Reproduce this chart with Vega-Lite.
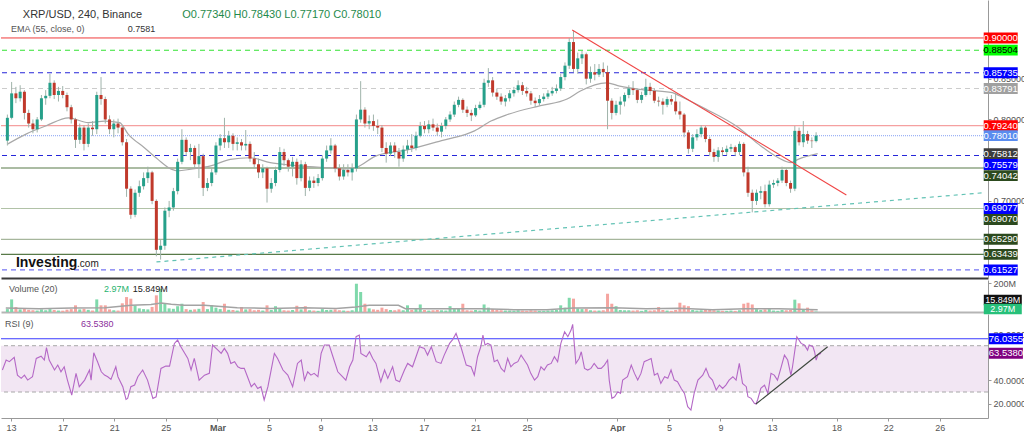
{
"$schema": "https://vega.github.io/schema/vega-lite/v6.json",
"padding": 0,
"background": "#ffffff",
"spacing": 2,
"bounds": "flush",
"config": {"view": {"stroke": null}, "font": "Liberation Sans"},
"resolve": {"scale": {"fill": "independent", "stroke": "independent", "strokeDash": "independent", "strokeWidth": "independent"}},
"datasets": {
"candles": [
{"t":-16,"o":0.774,"h":0.806,"l":0.768,"c":0.802,"v":20},
{"t":-8,"o":0.802,"h":0.846,"l":0.8,"c":0.832,"v":87},
{"t":0,"o":0.832,"h":0.84,"l":0.82,"c":0.826,"v":34},
{"t":8,"o":0.826,"h":0.842,"l":0.822,"c":0.834,"v":18},
{"t":16,"o":0.834,"h":0.836,"l":0.8,"c":0.808,"v":22},
{"t":24,"o":0.808,"h":0.812,"l":0.79,"c":0.795,"v":15},
{"t":32,"o":0.795,"h":0.8,"l":0.783,"c":0.788,"v":12},
{"t":40,"o":0.788,"h":0.803,"l":0.784,"c":0.8,"v":10},
{"t":48,"o":0.8,"h":0.83,"l":0.798,"c":0.826,"v":18},
{"t":56,"o":0.826,"h":0.836,"l":0.818,"c":0.829,"v":12},
{"t":64,"o":0.829,"h":0.856,"l":0.826,"c":0.845,"v":20},
{"t":72,"o":0.845,"h":0.848,"l":0.825,"c":0.83,"v":14},
{"t":80,"o":0.83,"h":0.84,"l":0.822,"c":0.835,"v":10},
{"t":88,"o":0.835,"h":0.841,"l":0.826,"c":0.83,"v":9},
{"t":96,"o":0.83,"h":0.833,"l":0.81,"c":0.815,"v":16},
{"t":104,"o":0.815,"h":0.818,"l":0.795,"c":0.8,"v":20},
{"t":112,"o":0.8,"h":0.802,"l":0.765,"c":0.775,"v":46},
{"t":120,"o":0.775,"h":0.795,"l":0.77,"c":0.79,"v":18},
{"t":128,"o":0.79,"h":0.793,"l":0.762,"c":0.77,"v":22},
{"t":136,"o":0.77,"h":0.795,"l":0.766,"c":0.79,"v":15},
{"t":144,"o":0.79,"h":0.798,"l":0.78,"c":0.788,"v":10},
{"t":152,"o":0.788,"h":0.834,"l":0.782,"c":0.83,"v":87},
{"t":160,"o":0.83,"h":0.852,"l":0.818,"c":0.825,"v":46},
{"t":168,"o":0.825,"h":0.828,"l":0.795,"c":0.8,"v":46},
{"t":176,"o":0.8,"h":0.805,"l":0.782,"c":0.788,"v":18},
{"t":184,"o":0.788,"h":0.8,"l":0.778,"c":0.795,"v":12},
{"t":192,"o":0.795,"h":0.801,"l":0.783,"c":0.79,"v":10},
{"t":200,"o":0.79,"h":0.793,"l":0.768,"c":0.772,"v":60},
{"t":208,"o":0.772,"h":0.776,"l":0.705,"c":0.715,"v":103},
{"t":216,"o":0.715,"h":0.718,"l":0.678,"c":0.683,"v":92},
{"t":224,"o":0.683,"h":0.714,"l":0.68,"c":0.71,"v":45},
{"t":232,"o":0.71,"h":0.725,"l":0.705,"c":0.718,"v":25},
{"t":240,"o":0.718,"h":0.735,"l":0.714,"c":0.728,"v":20},
{"t":248,"o":0.728,"h":0.742,"l":0.722,"c":0.735,"v":18},
{"t":256,"o":0.735,"h":0.737,"l":0.696,"c":0.7,"v":35},
{"t":264,"o":0.7,"h":0.702,"l":0.632,"c":0.64,"v":115},
{"t":272,"o":0.64,"h":0.652,"l":0.628,"c":0.645,"v":160},
{"t":280,"o":0.645,"h":0.692,"l":0.64,"c":0.688,"v":57},
{"t":288,"o":0.688,"h":0.7,"l":0.68,"c":0.692,"v":25},
{"t":296,"o":0.692,"h":0.716,"l":0.688,"c":0.712,"v":22},
{"t":304,"o":0.712,"h":0.752,"l":0.708,"c":0.748,"v":40},
{"t":312,"o":0.748,"h":0.788,"l":0.745,"c":0.775,"v":57},
{"t":320,"o":0.775,"h":0.778,"l":0.755,"c":0.76,"v":20},
{"t":328,"o":0.76,"h":0.77,"l":0.75,"c":0.765,"v":15},
{"t":336,"o":0.765,"h":0.768,"l":0.74,"c":0.745,"v":18},
{"t":344,"o":0.745,"h":0.77,"l":0.728,"c":0.755,"v":22},
{"t":352,"o":0.755,"h":0.758,"l":0.706,"c":0.716,"v":69},
{"t":360,"o":0.716,"h":0.728,"l":0.712,"c":0.722,"v":20},
{"t":368,"o":0.722,"h":0.74,"l":0.718,"c":0.735,"v":46},
{"t":376,"o":0.735,"h":0.772,"l":0.732,"c":0.768,"v":30},
{"t":384,"o":0.768,"h":0.782,"l":0.762,"c":0.777,"v":20},
{"t":392,"o":0.777,"h":0.802,"l":0.765,"c":0.772,"v":57},
{"t":400,"o":0.772,"h":0.786,"l":0.765,"c":0.78,"v":15},
{"t":408,"o":0.78,"h":0.783,"l":0.762,"c":0.77,"v":14},
{"t":416,"o":0.77,"h":0.778,"l":0.762,"c":0.772,"v":10},
{"t":424,"o":0.772,"h":0.776,"l":0.762,"c":0.768,"v":34},
{"t":432,"o":0.768,"h":0.787,"l":0.762,"c":0.77,"v":18},
{"t":440,"o":0.77,"h":0.773,"l":0.748,"c":0.752,"v":20},
{"t":448,"o":0.752,"h":0.76,"l":0.74,"c":0.745,"v":12},
{"t":456,"o":0.745,"h":0.752,"l":0.728,"c":0.735,"v":15},
{"t":464,"o":0.735,"h":0.745,"l":0.728,"c":0.74,"v":10},
{"t":472,"o":0.74,"h":0.742,"l":0.698,"c":0.715,"v":46},
{"t":480,"o":0.715,"h":0.728,"l":0.71,"c":0.722,"v":14},
{"t":488,"o":0.722,"h":0.742,"l":0.718,"c":0.738,"v":40},
{"t":496,"o":0.738,"h":0.766,"l":0.735,"c":0.76,"v":25},
{"t":504,"o":0.76,"h":0.764,"l":0.743,"c":0.75,"v":12},
{"t":512,"o":0.75,"h":0.752,"l":0.736,"c":0.742,"v":10},
{"t":520,"o":0.742,"h":0.754,"l":0.73,"c":0.748,"v":14},
{"t":528,"o":0.748,"h":0.752,"l":0.72,"c":0.728,"v":43},
{"t":536,"o":0.728,"h":0.75,"l":0.724,"c":0.745,"v":18},
{"t":544,"o":0.745,"h":0.748,"l":0.706,"c":0.716,"v":40},
{"t":552,"o":0.716,"h":0.73,"l":0.712,"c":0.725,"v":12},
{"t":560,"o":0.725,"h":0.73,"l":0.716,"c":0.722,"v":10},
{"t":568,"o":0.722,"h":0.733,"l":0.718,"c":0.728,"v":8},
{"t":576,"o":0.728,"h":0.756,"l":0.725,"c":0.752,"v":20},
{"t":584,"o":0.752,"h":0.768,"l":0.748,"c":0.762,"v":14},
{"t":592,"o":0.762,"h":0.777,"l":0.758,"c":0.768,"v":15},
{"t":600,"o":0.768,"h":0.77,"l":0.735,"c":0.74,"v":18},
{"t":608,"o":0.74,"h":0.745,"l":0.725,"c":0.73,"v":12},
{"t":616,"o":0.73,"h":0.745,"l":0.726,"c":0.738,"v":10},
{"t":624,"o":0.738,"h":0.745,"l":0.73,"c":0.735,"v":8},
{"t":632,"o":0.735,"h":0.746,"l":0.725,"c":0.74,"v":12},
{"t":640,"o":0.74,"h":0.806,"l":0.736,"c":0.8,"v":195},
{"t":648,"o":0.8,"h":0.847,"l":0.796,"c":0.812,"v":138},
{"t":656,"o":0.812,"h":0.815,"l":0.79,"c":0.795,"v":57},
{"t":664,"o":0.795,"h":0.805,"l":0.788,"c":0.798,"v":25},
{"t":672,"o":0.798,"h":0.806,"l":0.786,"c":0.792,"v":18},
{"t":680,"o":0.792,"h":0.8,"l":0.782,"c":0.79,"v":15},
{"t":688,"o":0.79,"h":0.793,"l":0.76,"c":0.765,"v":30},
{"t":696,"o":0.765,"h":0.772,"l":0.747,"c":0.758,"v":20},
{"t":704,"o":0.758,"h":0.772,"l":0.755,"c":0.768,"v":14},
{"t":712,"o":0.768,"h":0.772,"l":0.753,"c":0.76,"v":12},
{"t":720,"o":0.76,"h":0.765,"l":0.742,"c":0.752,"v":18},
{"t":728,"o":0.752,"h":0.768,"l":0.748,"c":0.763,"v":12},
{"t":736,"o":0.763,"h":0.775,"l":0.758,"c":0.768,"v":46},
{"t":744,"o":0.768,"h":0.782,"l":0.76,"c":0.765,"v":15},
{"t":752,"o":0.765,"h":0.785,"l":0.762,"c":0.78,"v":20},
{"t":760,"o":0.78,"h":0.797,"l":0.778,"c":0.792,"v":52},
{"t":768,"o":0.792,"h":0.798,"l":0.783,"c":0.788,"v":14},
{"t":776,"o":0.788,"h":0.799,"l":0.783,"c":0.794,"v":10},
{"t":784,"o":0.794,"h":0.801,"l":0.786,"c":0.79,"v":12},
{"t":792,"o":0.79,"h":0.795,"l":0.78,"c":0.785,"v":14},
{"t":800,"o":0.785,"h":0.796,"l":0.778,"c":0.792,"v":12},
{"t":808,"o":0.792,"h":0.803,"l":0.788,"c":0.8,"v":10},
{"t":816,"o":0.8,"h":0.81,"l":0.797,"c":0.806,"v":40},
{"t":824,"o":0.806,"h":0.822,"l":0.803,"c":0.818,"v":20},
{"t":832,"o":0.818,"h":0.828,"l":0.815,"c":0.824,"v":22},
{"t":840,"o":0.824,"h":0.826,"l":0.808,"c":0.812,"v":57},
{"t":848,"o":0.812,"h":0.816,"l":0.803,"c":0.808,"v":12},
{"t":856,"o":0.808,"h":0.812,"l":0.798,"c":0.805,"v":10},
{"t":864,"o":0.805,"h":0.818,"l":0.803,"c":0.814,"v":14},
{"t":872,"o":0.814,"h":0.822,"l":0.812,"c":0.818,"v":10},
{"t":880,"o":0.818,"h":0.85,"l":0.815,"c":0.845,"v":52},
{"t":888,"o":0.845,"h":0.863,"l":0.84,"c":0.848,"v":30},
{"t":896,"o":0.848,"h":0.852,"l":0.828,"c":0.833,"v":20},
{"t":904,"o":0.833,"h":0.838,"l":0.824,"c":0.828,"v":14},
{"t":912,"o":0.828,"h":0.832,"l":0.818,"c":0.822,"v":12},
{"t":920,"o":0.822,"h":0.83,"l":0.816,"c":0.826,"v":10},
{"t":928,"o":0.826,"h":0.836,"l":0.822,"c":0.832,"v":10},
{"t":936,"o":0.832,"h":0.84,"l":0.828,"c":0.836,"v":8},
{"t":944,"o":0.836,"h":0.848,"l":0.833,"c":0.842,"v":12},
{"t":952,"o":0.842,"h":0.846,"l":0.83,"c":0.835,"v":10},
{"t":960,"o":0.835,"h":0.84,"l":0.828,"c":0.832,"v":8},
{"t":968,"o":0.832,"h":0.835,"l":0.818,"c":0.823,"v":12},
{"t":976,"o":0.823,"h":0.827,"l":0.815,"c":0.82,"v":10},
{"t":984,"o":0.82,"h":0.83,"l":0.817,"c":0.825,"v":8},
{"t":992,"o":0.825,"h":0.832,"l":0.822,"c":0.828,"v":8},
{"t":1000,"o":0.828,"h":0.836,"l":0.825,"c":0.832,"v":10},
{"t":1008,"o":0.832,"h":0.84,"l":0.829,"c":0.835,"v":12},
{"t":1016,"o":0.835,"h":0.843,"l":0.832,"c":0.838,"v":14},
{"t":1024,"o":0.838,"h":0.856,"l":0.835,"c":0.852,"v":46},
{"t":1032,"o":0.852,"h":0.87,"l":0.848,"c":0.866,"v":30},
{"t":1040,"o":0.866,"h":0.9,"l":0.862,"c":0.895,"v":98},
{"t":1048,"o":0.895,"h":0.909,"l":0.858,"c":0.862,"v":92},
{"t":1056,"o":0.862,"h":0.882,"l":0.856,"c":0.875,"v":25},
{"t":1064,"o":0.875,"h":0.884,"l":0.868,"c":0.88,"v":20},
{"t":1072,"o":0.88,"h":0.882,"l":0.843,"c":0.85,"v":22},
{"t":1080,"o":0.85,"h":0.865,"l":0.845,"c":0.858,"v":12},
{"t":1088,"o":0.858,"h":0.868,"l":0.848,"c":0.855,"v":10},
{"t":1096,"o":0.855,"h":0.868,"l":0.852,"c":0.862,"v":10},
{"t":1104,"o":0.862,"h":0.87,"l":0.852,"c":0.858,"v":12},
{"t":1112,"o":0.858,"h":0.866,"l":0.788,"c":0.823,"v":126},
{"t":1120,"o":0.823,"h":0.826,"l":0.8,"c":0.808,"v":57},
{"t":1128,"o":0.808,"h":0.823,"l":0.805,"c":0.818,"v":40},
{"t":1136,"o":0.818,"h":0.828,"l":0.806,"c":0.822,"v":14},
{"t":1144,"o":0.822,"h":0.833,"l":0.816,"c":0.83,"v":12},
{"t":1152,"o":0.83,"h":0.842,"l":0.826,"c":0.838,"v":12},
{"t":1160,"o":0.838,"h":0.847,"l":0.83,"c":0.836,"v":10},
{"t":1168,"o":0.836,"h":0.838,"l":0.82,"c":0.824,"v":12},
{"t":1176,"o":0.824,"h":0.834,"l":0.82,"c":0.83,"v":8},
{"t":1184,"o":0.83,"h":0.85,"l":0.828,"c":0.84,"v":14},
{"t":1192,"o":0.84,"h":0.845,"l":0.83,"c":0.835,"v":10},
{"t":1200,"o":0.835,"h":0.838,"l":0.82,"c":0.823,"v":12},
{"t":1208,"o":0.823,"h":0.828,"l":0.816,"c":0.822,"v":34},
{"t":1216,"o":0.822,"h":0.826,"l":0.806,"c":0.818,"v":14},
{"t":1224,"o":0.818,"h":0.828,"l":0.815,"c":0.825,"v":10},
{"t":1232,"o":0.825,"h":0.83,"l":0.818,"c":0.822,"v":8},
{"t":1240,"o":0.822,"h":0.832,"l":0.806,"c":0.81,"v":14},
{"t":1248,"o":0.81,"h":0.822,"l":0.8,"c":0.806,"v":64},
{"t":1256,"o":0.806,"h":0.808,"l":0.778,"c":0.784,"v":46},
{"t":1264,"o":0.784,"h":0.787,"l":0.758,"c":0.764,"v":40},
{"t":1272,"o":0.764,"h":0.782,"l":0.76,"c":0.778,"v":14},
{"t":1280,"o":0.778,"h":0.788,"l":0.774,"c":0.782,"v":10},
{"t":1288,"o":0.782,"h":0.793,"l":0.778,"c":0.79,"v":12},
{"t":1296,"o":0.79,"h":0.792,"l":0.772,"c":0.776,"v":14},
{"t":1304,"o":0.776,"h":0.779,"l":0.755,"c":0.76,"v":18},
{"t":1312,"o":0.76,"h":0.764,"l":0.748,"c":0.754,"v":12},
{"t":1320,"o":0.754,"h":0.766,"l":0.748,"c":0.762,"v":10},
{"t":1328,"o":0.762,"h":0.766,"l":0.755,"c":0.76,"v":8},
{"t":1336,"o":0.76,"h":0.768,"l":0.756,"c":0.764,"v":8},
{"t":1344,"o":0.764,"h":0.77,"l":0.76,"c":0.766,"v":10},
{"t":1352,"o":0.766,"h":0.768,"l":0.755,"c":0.76,"v":8},
{"t":1360,"o":0.76,"h":0.773,"l":0.756,"c":0.77,"v":12},
{"t":1368,"o":0.77,"h":0.772,"l":0.73,"c":0.735,"v":57},
{"t":1376,"o":0.735,"h":0.742,"l":0.705,"c":0.71,"v":64},
{"t":1384,"o":0.71,"h":0.714,"l":0.686,"c":0.7,"v":52},
{"t":1392,"o":0.7,"h":0.714,"l":0.695,"c":0.71,"v":20},
{"t":1400,"o":0.71,"h":0.718,"l":0.702,"c":0.712,"v":14},
{"t":1408,"o":0.712,"h":0.72,"l":0.692,"c":0.696,"v":18},
{"t":1416,"o":0.696,"h":0.725,"l":0.693,"c":0.72,"v":20},
{"t":1424,"o":0.72,"h":0.726,"l":0.716,"c":0.722,"v":10},
{"t":1432,"o":0.722,"h":0.728,"l":0.718,"c":0.725,"v":8},
{"t":1440,"o":0.725,"h":0.742,"l":0.722,"c":0.738,"v":14},
{"t":1448,"o":0.738,"h":0.74,"l":0.718,"c":0.722,"v":12},
{"t":1456,"o":0.722,"h":0.725,"l":0.71,"c":0.715,"v":14},
{"t":1464,"o":0.715,"h":0.792,"l":0.712,"c":0.786,"v":85},
{"t":1472,"o":0.786,"h":0.79,"l":0.768,"c":0.772,"v":60},
{"t":1480,"o":0.772,"h":0.798,"l":0.766,"c":0.782,"v":20},
{"t":1488,"o":0.782,"h":0.786,"l":0.77,"c":0.774,"v":30},
{"t":1496,"o":0.774,"h":0.778,"l":0.765,"c":0.7734,"v":12},
{"t":1504,"o":0.7734,"h":0.7843,"l":0.7717,"c":0.7801,"v":2.97}
],
"ema": [
{"t":-15,"p":0.770},{"t":19,"p":0.782},{"t":56,"p":0.792},{"t":99,"p":0.802},{"t":136,"p":0.796},{"t":167,"p":0.798},{"t":195,"p":0.796},{"t":211,"p":0.782},{"t":242,"p":0.765},{"t":267,"p":0.751},{"t":292,"p":0.739},{"t":304,"p":0.737},{"t":329,"p":0.739},{"t":366,"p":0.743},{"t":403,"p":0.751},{"t":440,"p":0.753},{"t":478,"p":0.747},{"t":515,"p":0.744},{"t":552,"p":0.742},{"t":602,"p":0.740},{"t":614,"p":0.739},{"t":639,"p":0.741},{"t":676,"p":0.755},{"t":738,"p":0.763},{"t":800,"p":0.774},{"t":862,"p":0.786},{"t":893,"p":0.798},{"t":924,"p":0.806},{"t":986,"p":0.817},{"t":1036,"p":0.825},{"t":1061,"p":0.835},{"t":1110,"p":0.845},{"t":1135,"p":0.841},{"t":1172,"p":0.837},{"t":1234,"p":0.833},{"t":1247,"p":0.829},{"t":1296,"p":0.813},{"t":1358,"p":0.790},{"t":1395,"p":0.770},{"t":1433,"p":0.753},{"t":1457,"p":0.747},{"t":1470,"p":0.751},{"t":1507,"p":0.758}
],
"vma": [
{"t":-19,"m":28},{"t":43,"m":23},{"t":105,"m":28},{"t":168,"m":30},{"t":217,"m":46},{"t":254,"m":51},{"t":273,"m":62},{"t":292,"m":53},{"t":316,"m":46},{"t":354,"m":46},{"t":416,"m":30},{"t":478,"m":25},{"t":540,"m":30},{"t":602,"m":25},{"t":639,"m":35},{"t":664,"m":46},{"t":719,"m":46},{"t":732,"m":23},{"t":788,"m":23},{"t":875,"m":23},{"t":936,"m":16},{"t":998,"m":16},{"t":1048,"m":28},{"t":1123,"m":30},{"t":1185,"m":23},{"t":1247,"m":25},{"t":1309,"m":16},{"t":1371,"m":23},{"t":1433,"m":23},{"t":1507,"m":16}
],
"rsi": [
{"t":-16,"r":49.0},{"t":-9,"r":57.6},{"t":-3,"r":56.2},{"t":6,"r":59.9},{"t":12,"r":44.6},{"t":19,"r":41.8},{"t":25,"r":44.6},{"t":31,"r":40.3},{"t":40,"r":43.2},{"t":47,"r":59.0},{"t":56,"r":61.0},{"t":62,"r":57.6},{"t":66,"r":68.3},{"t":71,"r":57.6},{"t":81,"r":49.0},{"t":87,"r":53.3},{"t":93,"r":47.5},{"t":99,"r":51.8},{"t":105,"r":40.3},{"t":113,"r":27.4},{"t":121,"r":46.1},{"t":127,"r":34.6},{"t":137,"r":40.3},{"t":146,"r":49.0},{"t":149,"r":40.3},{"t":154,"r":63.9},{"t":161,"r":56.2},{"t":168,"r":47.5},{"t":174,"r":44.6},{"t":180,"r":43.2},{"t":186,"r":40.9},{"t":195,"r":51.8},{"t":199,"r":43.2},{"t":208,"r":34.6},{"t":214,"r":23.6},{"t":217,"r":24.5},{"t":223,"r":34.6},{"t":230,"r":36.0},{"t":236,"r":43.2},{"t":245,"r":49.0},{"t":254,"r":40.3},{"t":264,"r":24.5},{"t":270,"r":25.9},{"t":279,"r":50.4},{"t":288,"r":52.4},{"t":295,"r":52.4},{"t":304,"r":72.0},{"t":310,"r":74.9},{"t":316,"r":69.1},{"t":329,"r":59.0},{"t":335,"r":49.0},{"t":341,"r":59.0},{"t":350,"r":40.3},{"t":360,"r":44.6},{"t":369,"r":46.1},{"t":375,"r":70.6},{"t":385,"r":66.2},{"t":391,"r":63.4},{"t":397,"r":67.7},{"t":403,"r":63.4},{"t":409,"r":54.7},{"t":416,"r":56.2},{"t":422,"r":51.8},{"t":428,"r":50.4},{"t":434,"r":50.4},{"t":440,"r":43.2},{"t":447,"r":34.6},{"t":453,"r":37.4},{"t":459,"r":33.1},{"t":465,"r":34.6},{"t":471,"r":23.1},{"t":478,"r":34.6},{"t":484,"r":49.0},{"t":490,"r":63.4},{"t":496,"r":59.0},{"t":506,"r":49.0},{"t":515,"r":44.6},{"t":524,"r":34.6},{"t":533,"r":54.7},{"t":540,"r":57.6},{"t":546,"r":40.3},{"t":552,"r":47.5},{"t":558,"r":44.6},{"t":564,"r":46.1},{"t":571,"r":43.2},{"t":577,"r":63.4},{"t":583,"r":70.6},{"t":592,"r":70.6},{"t":599,"r":60.5},{"t":608,"r":47.5},{"t":614,"r":44.6},{"t":623,"r":40.3},{"t":630,"r":51.8},{"t":636,"r":57.6},{"t":642,"r":77.8},{"t":648,"r":79.2},{"t":651,"r":63.4},{"t":661,"r":60.5},{"t":667,"r":64.8},{"t":673,"r":59.0},{"t":679,"r":54.7},{"t":688,"r":38.9},{"t":695,"r":49.0},{"t":701,"r":41.8},{"t":710,"r":51.8},{"t":716,"r":40.3},{"t":723,"r":38.9},{"t":732,"r":49.0},{"t":738,"r":54.7},{"t":747,"r":51.8},{"t":760,"r":69.1},{"t":769,"r":67.7},{"t":775,"r":61.9},{"t":782,"r":69.1},{"t":791,"r":56.2},{"t":800,"r":54.7},{"t":806,"r":61.9},{"t":816,"r":72.0},{"t":822,"r":75.5},{"t":828,"r":80.6},{"t":837,"r":69.1},{"t":847,"r":53.3},{"t":856,"r":51.8},{"t":862,"r":44.6},{"t":868,"r":60.5},{"t":874,"r":69.1},{"t":878,"r":79.2},{"t":882,"r":70.6},{"t":887,"r":72.0},{"t":893,"r":70.6},{"t":899,"r":56.2},{"t":905,"r":57.6},{"t":912,"r":50.4},{"t":918,"r":47.5},{"t":924,"r":59.0},{"t":930,"r":51.8},{"t":936,"r":54.7},{"t":943,"r":56.2},{"t":949,"r":61.9},{"t":955,"r":57.6},{"t":961,"r":53.3},{"t":967,"r":46.1},{"t":974,"r":40.3},{"t":980,"r":43.2},{"t":986,"r":51.8},{"t":992,"r":49.0},{"t":998,"r":53.3},{"t":1005,"r":54.7},{"t":1011,"r":60.5},{"t":1017,"r":56.2},{"t":1023,"r":72.0},{"t":1030,"r":82.1},{"t":1036,"r":77.8},{"t":1042,"r":83.5},{"t":1045,"r":88.4},{"t":1051,"r":54.7},{"t":1057,"r":59.0},{"t":1061,"r":64.8},{"t":1067,"r":50.4},{"t":1073,"r":49.0},{"t":1079,"r":50.4},{"t":1085,"r":54.7},{"t":1092,"r":50.4},{"t":1098,"r":50.4},{"t":1104,"r":53.3},{"t":1110,"r":57.6},{"t":1113,"r":40.3},{"t":1118,"r":24.5},{"t":1123,"r":25.9},{"t":1129,"r":30.3},{"t":1134,"r":28.8},{"t":1138,"r":40.3},{"t":1147,"r":43.2},{"t":1154,"r":53.3},{"t":1160,"r":46.1},{"t":1166,"r":40.3},{"t":1172,"r":46.1},{"t":1178,"r":56.2},{"t":1185,"r":57.6},{"t":1191,"r":59.0},{"t":1197,"r":44.6},{"t":1203,"r":46.1},{"t":1209,"r":37.4},{"t":1216,"r":43.2},{"t":1222,"r":41.8},{"t":1228,"r":49.0},{"t":1234,"r":40.3},{"t":1240,"r":38.9},{"t":1247,"r":33.1},{"t":1253,"r":28.8},{"t":1259,"r":17.3},{"t":1265,"r":14.4},{"t":1271,"r":28.8},{"t":1278,"r":40.3},{"t":1287,"r":44.6},{"t":1293,"r":50.4},{"t":1299,"r":43.2},{"t":1305,"r":40.3},{"t":1312,"r":31.7},{"t":1318,"r":36.0},{"t":1324,"r":33.1},{"t":1330,"r":36.0},{"t":1336,"r":40.3},{"t":1343,"r":43.2},{"t":1349,"r":40.3},{"t":1355,"r":54.7},{"t":1361,"r":37.4},{"t":1368,"r":34.6},{"t":1371,"r":25.9},{"t":1377,"r":24.5},{"t":1383,"r":20.2},{"t":1386,"r":19.6},{"t":1389,"r":23.1},{"t":1395,"r":33.1},{"t":1402,"r":36.0},{"t":1408,"r":28.8},{"t":1414,"r":46.1},{"t":1420,"r":44.6},{"t":1426,"r":40.3},{"t":1433,"r":51.8},{"t":1439,"r":61.9},{"t":1445,"r":57.6},{"t":1451,"r":44.6},{"t":1454,"r":51.8},{"t":1462,"r":77.8},{"t":1470,"r":72.0},{"t":1476,"r":70.6},{"t":1482,"r":66.2},{"t":1485,"r":70.6},{"t":1492,"r":69.1},{"t":1495,"r":64.8},{"t":1498,"r":57.6},{"t":1501,"r":61.9},{"t":1507,"r":63.5}
],
"plabels": [
{"k":"0.90000","at":0.9},{"k":"0.88504","at":0.88504},{"k":"0.85735","at":0.85735},{"k":"0.83791","at":0.83791},{"k":"0.79240","at":0.7924},{"k":"0.78010","at":0.7801},{"k":"0.75812","at":0.75812},{"k":"0.75579","at":0.74463},{"k":"0.74042","at":0.73112},{"k":"0.69077","at":0.69077},{"k":"0.69070","at":0.67725},{"k":"0.65290","at":0.6529},{"k":"0.63439","at":0.63439},{"k":"0.61527","at":0.61527}
]
},
"vconcat": [
{
"width": 987, "height": 278,
"layer": [
{"data": {"values": [
{"v":0.9,"k":"0.90000"},{"v":0.88504,"k":"0.88504"},{"v":0.85735,"k":"0.85735"},{"v":0.83791,"k":"0.83791"},{"v":0.7924,"k":"0.79240"},{"v":0.7801,"k":"0.78010"},{"v":0.75579,"k":"0.75579"},{"v":0.74042,"k":"0.74042"},{"v":0.6907,"k":"0.69070"},{"v":0.6529,"k":"0.65290"},{"v":0.63439,"k":"0.63439"},{"v":0.61527,"k":"0.61527"}]},
 "mark": {"type": "rule"},
 "encoding": {
  "y": {"field": "v", "type": "quantitative", "scale": {"domain": [0.6054, 0.9466], "nice": false, "zero": false},
        "axis": {"orient": "right", "values": [0.7, 0.8, 0.85], "format": ".5f", "title": null, "grid": false, "tickSize": 3, "tickColor": "#999999", "domainColor": "#999999", "labelFontSize": 9, "labelColor": "#555555", "labelPadding": 2, "labelFlush": false, "labelOverlap": false}},
  "stroke": {"field": "k", "type": "nominal", "legend": null, "scale": {"domain": ["0.90000","0.88504","0.85735","0.83791","0.79240","0.78010","0.75579","0.74042","0.69070","0.65290","0.63439","0.61527"], "range": ["#f03c3c","#33e233","#2626d9","#cccccc","#f5a0a0","#9db3f5","#2626d9","#587a48","#b1c2a7","#a6b69c","#587a48","#7474f2"]}},
  "strokeDash": {"field": "k", "type": "nominal", "legend": null, "scale": {"domain": ["0.90000","0.88504","0.85735","0.83791","0.79240","0.78010","0.75579","0.74042","0.69070","0.65290","0.63439","0.61527"], "range": [[1,0],[5,4],[5,4],[5,4],[1,0],[1,1],[5,4],[1,0],[1,0],[1,0],[1,0],[5,4]]}},
  "strokeWidth": {"field": "k", "type": "ordinal", "legend": null, "scale": {"domain": ["0.90000","0.88504","0.85735","0.83791","0.79240","0.78010","0.75579","0.74042","0.69070","0.65290","0.63439","0.61527"], "range": [1,1.2,1.2,1.5,2,2,1.2,1,2,2,1,1.5]}}
 }},
{"data": {"values": [{"t":264.2,"p":0.6251},{"t":1817.7,"p":0.71}]},
 "mark": {"type": "line", "color": "#62c2b4", "strokeDash": [4,4], "strokeWidth": 1.2},
 "encoding": {"x": {"field": "t", "type": "quantitative", "scale": {"domain": [-18.6, 1817.7], "nice": false, "zero": false}}, "y": {"field": "p", "type": "quantitative"}}},
{"data": {"name": "ema"},
 "mark": {"type": "line", "color": "#a8a8a8", "strokeWidth": 1.2, "interpolate": "monotone"},
 "encoding": {"x": {"field": "t", "type": "quantitative"}, "y": {"field": "p", "type": "quantitative"}}},
{"data": {"name": "candles"},
 "mark": {"type": "rule", "color": "#9fb3aa", "strokeWidth": 1},
 "encoding": {"x": {"field": "t", "type": "quantitative", "scale": {"domain": [-18.6, 1817.7], "nice": false, "zero": false}, "axis": {"orient": "bottom", "labels": false, "ticks": false, "grid": false, "title": null, "domainColor": "#3a3a3a", "domainWidth": 2}},
  "y": {"field": "l", "type": "quantitative"}, "y2": {"field": "h"}}},
{"data": {"name": "candles"},
 "mark": {"type": "bar", "width": 3},
 "encoding": {"x": {"field": "t", "type": "quantitative"},
  "y": {"field": "o", "type": "quantitative"}, "y2": {"field": "c"},
  "color": {"condition": {"test": "datum.c >= datum.o", "value": "#26a08a"}, "value": "#c0392b"}}},
{"data": {"values": [{"t":1045.6,"p":0.9098},{"t":1560.9,"p":0.7073}]},
 "mark": {"type": "line", "color": "#f04545", "strokeWidth": 1.1},
 "encoding": {"x": {"field": "t", "type": "quantitative"}, "y": {"field": "p", "type": "quantitative"}}},
{"data": {"name": "plabels"},
 "mark": {"type": "point", "shape": "M-1,-0.32H1V0.32H-1Z", "size": 1156, "filled": true, "opacity": 1, "strokeWidth": 0},
 "encoding": {"x": {"datum": 1851, "type": "quantitative"}, "y": {"field": "at", "type": "quantitative"},
  "fill": {"field": "k", "type": "nominal", "legend": null, "scale": {"domain": ["0.90000","0.88504","0.85735","0.83791","0.79240","0.78010","0.75812","0.75579","0.74042","0.69077","0.69070","0.65290","0.63439","0.61527"], "range": ["#ff0000","#00ff00","#0000ff","#a0a0a0","#ff0000","#5a8cef","#3c3c3c","#0000ff","#2c4a1e","#0000ff","#2c4a1e","#2c4a1e","#2c4a1e","#0000ff"]}}}},
{"data": {"name": "plabels"},
 "mark": {"type": "text", "fontSize": 9.5, "align": "center", "baseline": "middle"},
 "encoding": {"x": {"datum": 1851, "type": "quantitative"}, "y": {"field": "at", "type": "quantitative"}, "text": {"field": "k"},
  "color": {"condition": {"test": "datum.k === '0.88504'", "value": "#000000"}, "value": "#ffffff"}}},
{"data": {"values": [{"s": "XRP/USD, 240, Binance"}]},
 "mark": {"type": "text", "align": "left", "baseline": "middle", "fontSize": 11, "color": "#333333"},
 "encoding": {"x": {"datum": 13, "type": "quantitative"}, "y": {"datum": 0.9282, "type": "quantitative"}, "text": {"field": "s"}}},
{"data": {"values": [{"s": "O0.77340  H0.78430  L0.77170  C0.78010"}]},
 "mark": {"type": "text", "align": "left", "baseline": "middle", "fontSize": 11, "color": "#1f8a4c"},
 "encoding": {"x": {"datum": 312.6, "type": "quantitative"}, "y": {"datum": 0.9282, "type": "quantitative"}, "text": {"field": "s"}}},
{"data": {"values": [{"s": "EMA (55, close, 0)"}]},
 "mark": {"type": "text", "align": "left", "baseline": "middle", "fontSize": 9, "color": "#555555"},
 "encoding": {"x": {"datum": -9.3, "type": "quantitative"}, "y": {"datum": 0.911, "type": "quantitative"}, "text": {"field": "s"}}},
{"data": {"values": [{"s": "0.7581"}]},
 "mark": {"type": "text", "align": "left", "baseline": "middle", "fontSize": 9, "color": "#333333"},
 "encoding": {"x": {"datum": 210, "type": "quantitative"}, "y": {"datum": 0.911, "type": "quantitative"}, "text": {"field": "s"}}},
{"data": {"values": [{"s": "Investing"}]},
 "mark": {"type": "text", "align": "left", "baseline": "alphabetic", "fontSize": 14, "fontWeight": "bold", "color": "#111111"},
 "encoding": {"x": {"datum": 0, "type": "quantitative"}, "y": {"datum": 0.6189, "type": "quantitative"}, "text": {"field": "s"}}},
{"data": {"values": [{"s": ".com"}]},
 "mark": {"type": "text", "align": "left", "baseline": "alphabetic", "fontSize": 10, "color": "#222222"},
 "encoding": {"x": {"datum": 115, "type": "quantitative"}, "y": {"datum": 0.6189, "type": "quantitative"}, "text": {"field": "s"}}}
]
},
{
"width": 987, "height": 32,
"layer": [
{"data": {"name": "candles"},
 "mark": {"type": "bar", "width": 3},
 "encoding": {"x": {"field": "t", "type": "quantitative", "scale": {"domain": [-18.6, 1817.7], "nice": false, "zero": false}, "axis": {"orient": "bottom", "labels": false, "ticks": false, "grid": false, "title": null, "domainColor": "#b5b5b5", "domainWidth": 2}},
  "y": {"field": "v", "type": "quantitative", "scale": {"domain": [0, 220.7], "nice": false},
        "axis": {"orient": "right", "values": [200], "labelExpr": "datum.value + 'M'", "title": null, "grid": false, "tickSize": 3, "tickColor": "#999999", "domainColor": "#999999", "labelFontSize": 9, "labelColor": "#555555", "labelPadding": 2, "labelFlush": false, "labelOverlap": false}},
  "color": {"condition": {"test": "datum.c >= datum.o", "value": "#7fd9ab"}, "value": "#f5a5a0"}}},
{"data": {"name": "vma"},
 "mark": {"type": "line", "color": "#a3a3a3", "strokeWidth": 1.5},
 "encoding": {"x": {"field": "t", "type": "quantitative"}, "y": {"field": "m", "type": "quantitative"}}},
{"data": {"values": [{"k": "15.849M", "at": 82.8}, {"k": "2.97M", "at": 20.7}]},
 "mark": {"type": "point", "shape": "M-1,-0.28H1V0.28H-1Z", "size": 1444, "filled": true, "opacity": 1, "strokeWidth": 0},
 "encoding": {"x": {"datum": 1854.9, "type": "quantitative"}, "y": {"field": "at", "type": "quantitative"},
  "fill": {"field": "k", "type": "nominal", "legend": null, "scale": {"domain": ["15.849M", "2.97M"], "range": ["#111111", "#27c07a"]}}}},
{"data": {"values": [{"k": "15.849M", "at": 82.8}, {"k": "2.97M", "at": 20.7}]},
 "mark": {"type": "text", "fontSize": 9, "align": "center", "baseline": "middle", "color": "#ffffff"},
 "encoding": {"x": {"datum": 1854.9, "type": "quantitative"}, "y": {"field": "at", "type": "quantitative"}, "text": {"field": "k"}}},
{"data": {"values": [{"s": "Volume (20)"}]},
 "mark": {"type": "text", "align": "left", "baseline": "middle", "fontSize": 9, "color": "#555555"},
 "encoding": {"x": {"datum": -13, "type": "quantitative"}, "y": {"datum": 158.6, "type": "quantitative"}, "text": {"field": "s"}}},
{"data": {"values": [{"s": "2.97M"}]},
 "mark": {"type": "text", "align": "left", "baseline": "middle", "fontSize": 9, "color": "#27b36e"},
 "encoding": {"x": {"datum": 165.6, "type": "quantitative"}, "y": {"datum": 158.6, "type": "quantitative"}, "text": {"field": "s"}}},
{"data": {"values": [{"s": "15.849M"}]},
 "mark": {"type": "text", "align": "left", "baseline": "middle", "fontSize": 9, "color": "#222222"},
 "encoding": {"x": {"datum": 219.5, "type": "quantitative"}, "y": {"datum": 158.6, "type": "quantitative"}, "text": {"field": "s"}}}
]
},
{
"width": 987, "height": 104,
"layer": [
{"data": {"values": [{"lo": 30, "hi": 70}]},
 "mark": {"type": "rect", "color": "#f2e6f3"},
 "encoding": {"y": {"field": "lo", "type": "quantitative", "scale": {"domain": [7.55, 97.4], "nice": false, "zero": false},
   "axis": {"orient": "right", "values": [20, 40, 80], "format": ".4f", "title": null, "grid": false, "tickSize": 3, "tickColor": "#999999", "domainColor": "#999999", "labelFontSize": 9, "labelColor": "#555555", "labelPadding": 2, "labelFlush": false, "labelOverlap": false}},
  "y2": {"field": "hi"}}},
{"data": {"values": [{"v": 30}, {"v": 70}]},
 "mark": {"type": "rule", "color": "#a8a8a8", "strokeDash": [4, 3]},
 "encoding": {"y": {"field": "v", "type": "quantitative"}}},
{"data": {"values": [{"v": 76.0355}]},
 "mark": {"type": "rule", "color": "#3a3aff", "strokeWidth": 1.2},
 "encoding": {"y": {"field": "v", "type": "quantitative"}}},
{"data": {"name": "rsi"},
 "mark": {"type": "line", "color": "#b468c6", "strokeWidth": 1.1},
 "encoding": {"x": {"field": "t", "type": "quantitative", "scale": {"domain": [-18.6, 1817.7], "nice": false, "zero": false},
   "axis": {"values": [0, 96, 192, 288, 384, 480, 576, 672, 768, 864, 960, 1128, 1224, 1320, 1416, 1536, 1632, 1728],
     "labelExpr": "date(datetime(2022,1,13,datum.value)) == 1 ? timeFormat(datetime(2022,1,13,datum.value), '%b') : '' + date(datetime(2022,1,13,datum.value))",
     "labelFontWeight": {"condition": {"test": "datum.value == 384 || datum.value == 1128", "value": "bold"}, "value": "normal"},
     "title": null, "grid": false, "tickSize": 3, "tickColor": "#999999", "domainColor": "#999999", "labelFontSize": 9, "labelColor": "#555555", "labelPadding": 2, "labelFlush": false, "labelOverlap": false}},
  "y": {"field": "r", "type": "quantitative"}}},
{"data": {"values": [{"t": 1386, "r": 19.6}, {"t": 1519.4, "r": 69.1}]},
 "mark": {"type": "line", "color": "#3b463b", "strokeWidth": 1.1},
 "encoding": {"x": {"field": "t", "type": "quantitative"}, "y": {"field": "r", "type": "quantitative"}}},
{"data": {"values": [{"k": "76.0355", "at": 76.0355}, {"k": "63.5380", "at": 63.538}]},
 "mark": {"type": "point", "shape": "M-1,-0.32H1V0.32H-1Z", "size": 1156, "filled": true, "opacity": 1, "strokeWidth": 0},
 "encoding": {"x": {"datum": 1851, "type": "quantitative"}, "y": {"field": "at", "type": "quantitative"},
  "fill": {"field": "k", "type": "nominal", "legend": null, "scale": {"domain": ["76.0355", "63.5380"], "range": ["#0000ff", "#800080"]}}}},
{"data": {"values": [{"k": "76.0355", "at": 76.0355}, {"k": "63.5380", "at": 63.538}]},
 "mark": {"type": "text", "fontSize": 9.5, "align": "center", "baseline": "middle", "color": "#ffffff"},
 "encoding": {"x": {"datum": 1851, "type": "quantitative"}, "y": {"field": "at", "type": "quantitative"}, "text": {"field": "k"}}},
{"data": {"values": [{"s": "RSI (9)"}]},
 "mark": {"type": "text", "align": "left", "baseline": "middle", "fontSize": 9, "color": "#555555"},
 "encoding": {"x": {"datum": -11, "type": "quantitative"}, "y": {"datum": 88.7, "type": "quantitative"}, "text": {"field": "s"}}},
{"data": {"values": [{"s": "63.5380"}]},
 "mark": {"type": "text", "align": "left", "baseline": "middle", "fontSize": 9, "color": "#8b2f9b"},
 "encoding": {"x": {"datum": 130.2, "type": "quantitative"}, "y": {"datum": 88.7, "type": "quantitative"}, "text": {"field": "s"}}}
]
}
]
}
